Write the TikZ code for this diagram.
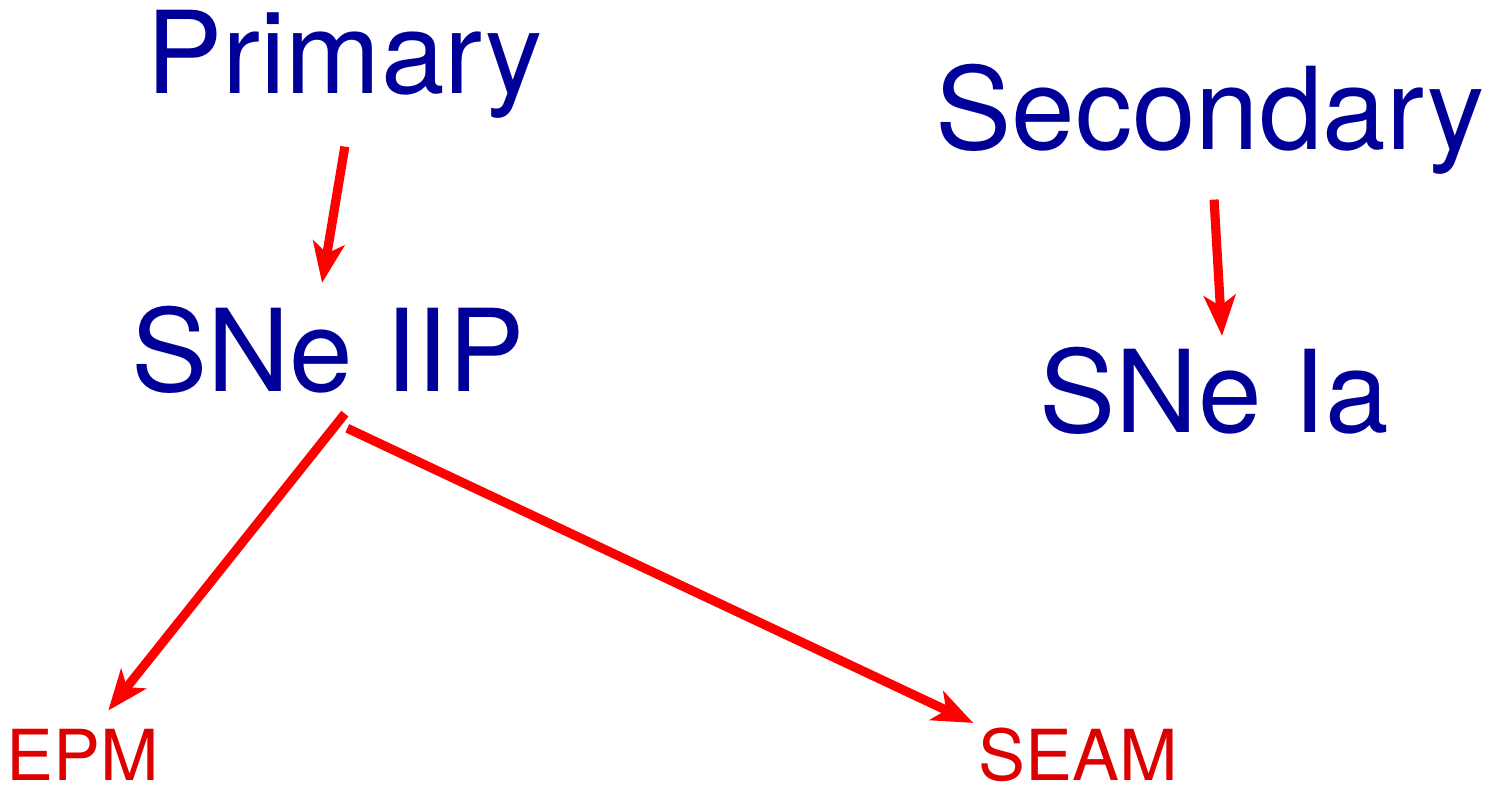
\documentclass[tikz,border=0pt]{standalone}
\usepackage{fontspec}
\setmainfont{TeX Gyre Heros}
\usetikzlibrary{arrows.meta}
\definecolor{snblue}{RGB}{0,0,153}
\definecolor{snred}{RGB}{221,0,0}

\begin{document}
\begin{tikzpicture}[x=0.01cm,y=-0.01cm,
  big/.style={anchor=base,inner sep=0pt,text=snblue,font=\fontsize{32.5}{39}\selectfont},
  small/.style={anchor=base,inner sep=0pt,text=snred,font=\fontsize{20}{24}\selectfont},
  flow/.style={draw=red,line width=2.6pt,-{Stealth[length=11.5pt,width=9pt,inset=3pt]}}]
  \useasboundingbox (0,0) rectangle (1494,787);
  % labels
  \node[big] (primary) at (344.5,93) {Primary};
  \node[big] (secondary) at (1210,149) {Secondary};
  \node[big] (snep) at (328,391) {SNe IIP};
  \node[big] (snia) at (1214,432) {SNe Ia};
  \node[small] (epm) at (83,780) {EPM};
  \node[small] (seam) at (1078,780) {SEAM};
  % arrows
  \draw[flow,shorten <=0.284cm,shorten >=0.223cm] ([xshift=0.05cm]primary.south) -- ([xshift=-0.096cm]snep.north);
  \draw[flow,shorten <=0.25cm,shorten >=0.1cm] ([xshift=0.026cm]secondary.south) -- ([xshift=0.086cm]snia.north);
  \draw[flow,shorten <=0.254cm,shorten >=0.224cm] ([xshift=0.327cm]snep.south) -- ([xshift=0.113cm]epm.north);
  \draw[flow,shorten <=0.81cm,shorten >=0.09cm] ([xshift=-0.54cm]snep.south) -- ([xshift=0.038cm]seam.north west);
\end{tikzpicture}
\end{document}
